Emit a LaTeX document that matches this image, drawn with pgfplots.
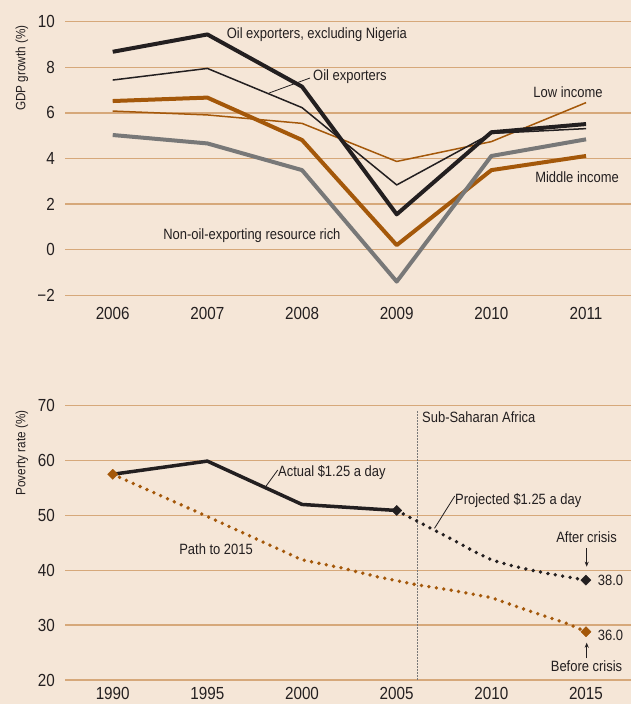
\documentclass[border=0pt]{standalone}
\usepackage{fontspec}
\setmainfont[FakeStretch=0.87]{Liberation Sans}
\usepackage{pgfplots}
\pgfplotsset{compat=1.18}
\usetikzlibrary{arrows.meta}
\definecolor{bgc}{RGB}{245,230,215}
\definecolor{gridc}{RGB}{214,168,122}
\definecolor{orc}{RGB}{164,88,10}
\definecolor{grc}{RGB}{120,120,120}
\definecolor{blc}{RGB}{35,31,32}
\newcommand{\tickfont}{\fontsize{17.5bp}{20bp}\selectfont}
\newcommand{\annfont}{\fontsize{14.9bp}{17bp}\selectfont}
\newcommand{\labfont}{\fontsize{13.5bp}{16bp}\selectfont}
\pgfplotsset{myax/.style={
  scale only axis, anchor=south west, width=566bp, clip=false,
  axis line style={draw=none}, tick style={draw=none},
  ymajorgrids, grid style={gridc, line width=1.3bp},
  xticklabel style={anchor=north, inner sep=0pt, yshift=-11.4bp, font=\tickfont, text=blc},
  yticklabel style={anchor=east, inner sep=0pt, xshift=-10bp, font=\tickfont, text=blc},
  every axis plot/.append style={line join=round}
}}
\begin{document}
\begin{tikzpicture}[x=1bp,y=1bp]
\fill[bgc] (0,0) rectangle (631,704);
% ---------- top panel ----------
\begin{axis}[myax, at={(65bp,408.7bp)}, height=273.6bp,
  xmin=2005.496, xmax=2011.475, ymin=-2, ymax=10,
  xtick={2006,2007,2008,2009,2010,2011},
  xticklabels={2006,2007,2008,2009,2010,2011},
  ytick={-2,0,2,4,6,8,10},
  yticklabels={−2,0,2,4,6,8,10}]
% Low income
\addplot[orc, line width=1.5bp] coordinates {(2006,6.08) (2007,5.91) (2008,5.54) (2009,3.87) (2010,4.74) (2011,6.45)};
% Middle income
\addplot[orc, line width=4bp] coordinates {(2006,6.52) (2007,6.67) (2008,4.81) (2009,0.20) (2010,3.49) (2011,4.11)};
% Non-oil-exporting resource rich
\addplot[grc, line width=4bp] coordinates {(2006,5.03) (2007,4.66) (2008,3.49) (2009,-1.40) (2010,4.11) (2011,4.84)};
% Oil exporters
\addplot[blc, line width=1.5bp] coordinates {(2006,7.44) (2007,7.95) (2008,6.23) (2009,2.84) (2010,5.10) (2011,5.31)};
% Oil exporters excluding Nigeria
\addplot[blc, line width=4bp] coordinates {(2006,8.68) (2007,9.44) (2008,7.15) (2009,1.55) (2010,5.15) (2011,5.51)};
\node[anchor=west, inner sep=0pt, font=\annfont, text=blc] at (axis cs:2007.203,9.43) {Oil exporters, excluding Nigeria};
\node[anchor=west, inner sep=0pt, font=\annfont, text=blc] at (axis cs:2008.116,7.59) {Oil exporters};
\draw[blc, line width=0.8bp] (axis cs:2008.084,7.53) -- (axis cs:2007.651,6.87);
\node[inner sep=0pt, font=\annfont, text=blc] at (axis cs:2010.81,6.89) {Low income};
\node[inner sep=0pt, font=\annfont, text=blc] at (axis cs:2010.905,3.19) {Middle income};
\node[inner sep=0pt, font=\annfont, text=blc] at (axis cs:2007.47,0.61) {Non-oil-exporting resource rich};
\end{axis}
% ---------- bottom panel ----------
\begin{axis}[myax, at={(65bp,24bp)}, height=274.3bp,
  xmin=1987.48, xmax=2017.38, ymin=20, ymax=70,
  xticklabel style={yshift=4bp},
  xtick={1990,1995,2000,2005,2010,2015},
  xticklabels={1990,1995,2000,2005,2010,2015},
  ytick={20,30,40,50,60,70},
  yticklabels={20,30,40,50,60,70}]
\addplot[grc, line width=1.2bp, dash pattern=on 1.5bp off 1.5bp] coordinates {(2006.1,20) (2006.1,69.2)};
% Path to 2015
\addplot[orc, line width=3.8bp, line cap=round, dash pattern=on 0pt off 7.5bp] coordinates {(1990,57.5) (1995,49.8) (2000,41.9) (2002,40.5) (2004,38.8) (2006,37.4) (2008,36.3) (2010,35.0) (2012,32.6) (2014,30.3) (2015,28.8)};
% Projected
\addplot[blc, line width=3.8bp, line cap=round, dash pattern=on 0pt off 7.5bp] coordinates {(2005,50.9) (2006,49.1) (2007,47.3) (2008,45.5) (2009,43.6) (2010,41.9) (2011,40.9) (2012,40.1) (2013,39.4) (2014,38.8) (2015,38.2)};
% Actual
\addplot[blc, line width=3.5bp] coordinates {(1990,57.5) (1995,59.9) (2000,52.0) (2005,50.9)};
\addplot[only marks, mark=square*, mark size=3.6bp, mark options={rotate=45, fill=orc, draw=orc}] coordinates {(1990,57.5) (2015,28.8)};
\addplot[only marks, mark=square*, mark size=3.6bp, mark options={rotate=45, fill=blc, draw=blc}] coordinates {(2005,50.9) (2015,38.2)};
\node[anchor=west, inner sep=0pt, font=\annfont, text=blc] at (axis cs:2006.34,67.94) {Sub-Saharan Africa};
\node[anchor=west, inner sep=0pt, font=\annfont, text=blc] at (axis cs:1998.73,57.79) {Actual \$1.25 a day};
\draw[blc, line width=0.8bp] (axis cs:1998.72,58.28) -- (axis cs:1998.08,55.24);
\node[anchor=west, inner sep=0pt, font=\annfont, text=blc] at (axis cs:2008.08,52.68) {Projected \$1.25 a day};
\draw[blc, line width=0.8bp] (axis cs:2008.07,53.54) -- (axis cs:2007.0,47.65);
\node[inner sep=0pt, font=\annfont, text=blc] at (axis cs:1995.46,43.82) {Path to 2015};
\node[inner sep=0pt, font=\annfont, text=blc] at (axis cs:2015.03,46.12) {After crisis};
\draw[blc, line width=1bp, -{Stealth[length=5bp,width=4bp]}] (axis cs:2015.04,44.06) -- (axis cs:2015.04,40.66);
\node[anchor=west, inner sep=0pt, font=\annfont, text=blc] at (axis cs:2015.62,38.1) {38.0};
\node[anchor=west, inner sep=0pt, font=\annfont, text=blc] at (axis cs:2015.62,28.2) {36.0};
\draw[blc, line width=1bp, -{Stealth[length=5bp,width=4bp]}] (axis cs:2015.04,23.96) -- (axis cs:2015.04,26.8);
\node[inner sep=0pt, font=\annfont, text=blc] at (axis cs:2015.03,22.55) {Before crisis};
\end{axis}
\node[rotate=90, inner sep=0pt, font=\labfont, text=blc] at (22,636) {GDP growth (\%)};
\node[rotate=90, inner sep=0pt, font=\labfont, text=blc] at (22,251) {Poverty rate (\%)};
\pgfresetboundingbox
\path[use as bounding box] (0,0) rectangle (631,704);
\end{tikzpicture}
\end{document}
